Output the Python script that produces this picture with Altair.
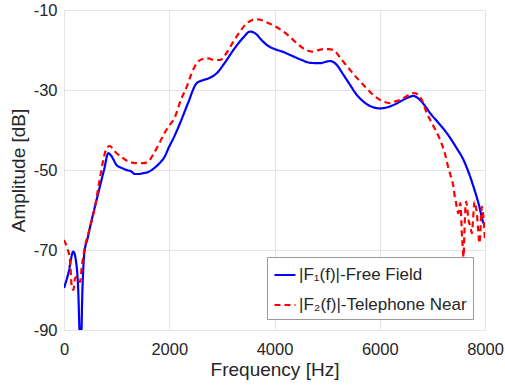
import altair as alt
import pandas as pd

# |F1(f)| - Free Field
f1_freq = [0, 80, 177, 230, 270, 300, 320, 350, 386, 450, 526, 600, 684, 760, 843, 900,
           1001, 1100, 1191, 1270, 1350, 1430, 1502, 1580, 1667, 1800, 1920, 1983, 2100,
           2205, 2350, 2522, 2650, 2744, 2903, 3050, 3219, 3400, 3536, 3650, 3726, 3850,
           4011, 4150, 4297, 4500, 4677, 4867, 4960, 5057, 5184, 5300, 5437, 5550, 5690,
           5850, 6008, 6150, 6260, 6400, 6550, 6641, 6750, 6850, 6958, 7100, 7275, 7450,
           7592, 7700, 7782, 7880, 7972, 8000]
f1_amp = [-79.5, -76, -70.4, -73, -80, -92, -95, -80, -70.8, -67, -62.5, -58.5, -54, -50,
          -45.8, -46.5, -48.8, -49.5, -50, -50.3, -51, -51, -50.8, -50.6, -50, -48.5, -46.5,
          -44.6, -41.5, -38.3, -33.5, -28.3, -27.5, -27.1, -25.8, -23.3, -20, -17, -15.4,
          -16, -17.1, -18.7, -19.8, -20.4, -21.25, -22.4, -23.2, -23.3, -23, -22.75, -23.75,
          -26, -28.75, -31, -32.9, -34.2, -34.6, -34.3, -33.75, -32.8, -31.8, -31.5, -32.3,
          -33.8, -35.8, -38, -40.8, -44.3, -47.5, -51, -54.2, -58.5, -63.3, -64]

# |F2(f)| - Telephone Near
f2_freq = [0, 60, 114, 146, 180, 210, 241, 270, 304, 340, 399, 480, 589, 670, 747, 810,
           875, 940, 1001, 1100, 1223, 1320, 1413, 1500, 1603, 1700, 1793, 1900, 1983,
           2110, 2220, 2332, 2420, 2522, 2620, 2744, 2850, 2966, 3100, 3219, 3350, 3473,
           3560, 3631, 3720, 3821, 4000, 4169, 4300, 4423, 4560, 4709, 4820, 4930, 5030,
           5120, 5250, 5437, 5600, 5754, 5880, 6008, 6100, 6198, 6300, 6388, 6480, 6578,
           6650, 6736, 6800, 6895, 7020, 7148, 7230, 7306, 7360, 7401, 7430, 7452, 7470,
           7496, 7512, 7529, 7545, 7560, 7576, 7592, 7608, 7625, 7643, 7665, 7687, 7720,
           7750, 7775, 7800, 7823, 7846, 7870, 7895, 7918, 7941, 7963, 7985, 8000]
f2_amp = [-67.5, -69.5, -72.5, -79, -80, -77, -76.7, -77, -78, -74, -69.2, -65, -59.2,
          -53, -47.5, -44.5, -44, -45, -45.8, -46.8, -47.9, -48.2, -48.3, -48.3, -47.9,
          -46, -43.8, -41, -39.2, -36.7, -32.5, -29.2, -26, -23.3, -22.3, -22.1, -22.5,
          -22.5, -20.5, -17.9, -15.3, -13.3, -12.6, -12.3, -12.4, -12.9, -14, -15.4, -16.8,
          -18.3, -19.7, -20.4, -20.1, -19.8, -19.8, -20, -22, -25, -27.5, -29.6, -31.3,
          -32.5, -33, -33.3, -32.8, -32.5, -31.8, -31, -30.8, -31.25, -32.5, -35.8, -39,
          -42.5, -45.5, -49.6, -52, -54.2, -57, -58.3, -60, -60.8, -59.5, -58.3, -61,
          -65.8, -69, -71.7, -66, -60, -57.9, -60, -62.5, -64, -65.8, -62, -57.9, -59,
          -60.8, -65, -68.3, -64, -59.2, -61, -64.2, -68]

series_names = ["|F\u2081(f)|-Free Field", "|F\u2082(f)|-Telephone Near"]
x_ticks = [0, 2000, 4000, 6000, 8000]
y_ticks = [-90, -70, -50, -30, -10]

rows = []
for i, (f, a) in enumerate(zip(f1_freq, f1_amp)):
    rows.append({"freq": f, "amp": a, "series": series_names[0], "order": i})
for i, (f, a) in enumerate(zip(f2_freq, f2_amp)):
    rows.append({"freq": f, "amp": a, "series": series_names[1], "order": i})
df = pd.DataFrame(rows)

FONT = "Liberation Sans"
TXT = "#262626"

chart = alt.Chart(df).mark_line(strokeWidth=2.2, clip=True, interpolate="monotone").encode(
    x=alt.X("freq:Q", scale=alt.Scale(domain=[0, 8000], nice=False, zero=False),
            axis=alt.Axis(title="Frequency [Hz]", values=x_ticks,
                          labelExpr="toString(datum.value)",
                          grid=True, gridColor="#e4e4e4", ticks=False,
                          domain=False, labelFontSize=16.5, titleFontSize=19,
                          labelColor=TXT, titleColor=TXT, labelPadding=11,
                          titlePadding=3, labelFont=FONT, titleFont=FONT,
                          titleFontWeight="normal", labelFlush=False)),
    y=alt.Y("amp:Q", scale=alt.Scale(domain=[-90, -10], nice=False, zero=False),
            axis=alt.Axis(title="Amplitude [dB]", values=y_ticks,
                          labelExpr="toString(datum.value)",
                          grid=True, gridColor="#e4e4e4", ticks=False,
                          domain=False, labelFontSize=16.5, titleFontSize=19,
                          labelColor=TXT, titleColor=TXT, labelPadding=7,
                          titlePadding=5, labelFont=FONT, titleFont=FONT,
                          titleFontWeight="normal", labelFlush=False)),
    color=alt.Color("series:N",
                    scale=alt.Scale(domain=series_names, range=["#0000ff", "#ff0000"]),
                    legend=alt.Legend(title=None, orient="none", legendX=203, legendY=247,
                                      fillColor="white", strokeColor="#9a9a9a",
                                      padding=6, labelFontSize=17, labelFont=FONT,
                                      labelColor=TXT, symbolType="stroke",
                                      symbolStrokeWidth=2.2, symbolSize=441,
                                      rowPadding=10, labelOffset=2, labelLimit=300)),
    strokeDash=alt.StrokeDash("series:N",
                              scale=alt.Scale(domain=series_names, range=[[1, 0], [6, 4]]),
                              legend=None),
    order="order:Q",
).properties(
    width=421, height=320,
    padding={"left": 64, "top": 10, "right": 20, "bottom": 62},
    autosize=alt.AutoSizeParams(type="none"),
).configure_view(stroke="#8a8a8a", strokeWidth=1).configure(background="white")

chart.save("out.html", embed_options={"renderer": "svg", "actions": False})
